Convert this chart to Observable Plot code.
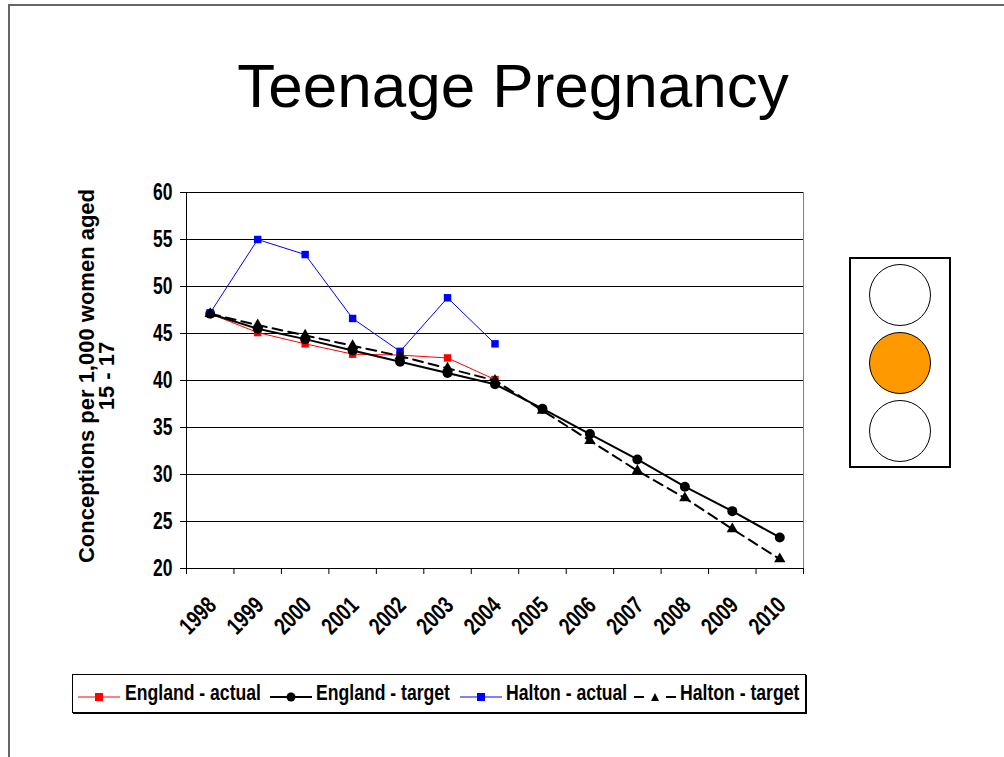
<!DOCTYPE html>
<html>
<head>
<meta charset="utf-8">
<script src="https://cdn.jsdelivr.net/npm/d3@7"></script>
<script src="https://cdn.jsdelivr.net/npm/@observablehq/plot@0.6"></script>
<style>
  html, body { margin: 0; padding: 0; background: #fff; }
  #page { position: relative; width: 1004px; height: 757px; overflow: hidden; font-family: "Liberation Sans", Arial, sans-serif; }
  #frame { position: absolute; left: 8px; top: 4px; width: 1000px; height: 760px; border-top: 2px solid #666; border-left: 2px solid #666; }
  #title { position: absolute; left: 11px; width: 1004px; top: 50px; text-align: center; font-size: 62px; color: #000; white-space: nowrap; }
  #chart { position: absolute; left: 0; top: 150px; }
  #ylabel { position: absolute; left: 97px; top: 376px; transform: translate(-50%, -50%) rotate(-90deg); white-space: nowrap; text-align: center; font-weight: bold; font-size: 22px; line-height: 20px; }
  #legend { position: absolute; left: 72px; top: 674px; width: 732px; height: 37px; border: 1px solid #000; box-shadow: 1px 1px 0 #000; font-family: "Liberation Sans", Arial, sans-serif; font-weight: bold; font-size: 22px; }
  .sw { position: absolute; top: 10px; }
  .lt { position: absolute; top: 5px; white-space: nowrap; transform: scaleX(0.8); transform-origin: left center; line-height: 26px; }
  #light { position: absolute; left: 849px; top: 257px; width: 98px; height: 207px; border: 2px solid #000; }
  .lamp { position: absolute; left: 18px; width: 60px; height: 60px; border: 1px solid #000; border-radius: 50%; background: #fff; }
</style>
</head>
<body>
<div id="page">
  <div id="frame"></div>
  <div id="title">Teenage Pregnancy</div>
  <div id="chart"></div>
  <div id="ylabel">Conceptions per 1,000 women aged<br>15 - 17</div>
  <div id="legend"></div>
  <div id="light">
    <div class="lamp" style="top:5px"></div>
    <div class="lamp" style="top:73px;background:#FF9900"></div>
    <div class="lamp" style="top:141px"></div>
  </div>
</div>
<script>
// ---- data ----
const years = [1998, 1999, 2000, 2001, 2002, 2003, 2004, 2005, 2006, 2007, 2008, 2009, 2010];
const englandActual = [47.1, 45.1, 43.9, 42.8, 42.7, 42.4, 40.1];
const englandTarget = [47.1, 45.5, 44.4, 43.2, 42.0, 40.8, 39.6, 37.0, 34.3, 31.6, 28.7, 26.1, 23.3];
const haltonActual = [47.2, 55.0, 53.4, 46.6, 43.1, 48.8, 43.9];
const haltonTarget = [47.1, 45.9, 44.8, 43.7, 42.6, 41.3, 40.0, 36.8, 33.6, 30.4, 27.5, 24.2, 21.0];
const seriesNames = ["England - actual", "England - target", "Halton - actual", "Halton - target"];
const yTicks = [20, 25, 30, 35, 40, 45, 50, 55, 60];

const toRows = (vals) => vals.map((v, i) => ({year: years[i], value: v}));
const ea = toRows(englandActual), et = toRows(englandTarget), ha = toRows(haltonActual), ht = toRows(haltonTarget);
const bounds = d3.range(years.length + 1).map(i => years[0] - 0.5 + i);

const styles = [
  {stroke: "#FF0000", strokeWidth: 1, dash: null, symbol: "square", r: 4.2},
  {stroke: "#000000", strokeWidth: 2, dash: null, symbol: "circle", r: 5},
  {stroke: "#0000FF", strokeWidth: 1, dash: null, symbol: "square", r: 4.2},
  {stroke: "#000000", strokeWidth: 2, dash: "10,6", symbol: "triangle", r: 4.2}
];
const datasets = [ea, et, ha, ht];

const marks = [
  Plot.ruleY(yTicks.filter(t => t > 20), {stroke: "#000", strokeWidth: 1, shapeRendering: "crispEdges"}),
  Plot.ruleX([bounds[bounds.length - 1]], {stroke: "#808080", strokeWidth: 1, shapeRendering: "crispEdges"}),
  Plot.ruleY([20], {stroke: "#000", strokeWidth: 1, shapeRendering: "crispEdges"}),
  Plot.ruleX([bounds[0]], {stroke: "#000", strokeWidth: 1, shapeRendering: "crispEdges"}),
  Plot.axisY({ticks: yTicks, tickSize: 6, tickPadding: 8, fontSize: 23, fontWeight: "bold", tickFormat: d => String(d), label: null}),
  Plot.axisX({ticks: bounds, tickSize: 6, tickFormat: () => "", label: null}),
  Plot.text(years, {x: d => d, y: () => 20, text: d => String(d), rotate: -45, textAnchor: "end", lineAnchor: "middle", dy: 33, dx: 2, fontSize: 24, fontWeight: "bold"})
];
datasets.forEach((data, i) => {
  const s = styles[i];
  marks.push(Plot.line(data, {x: "year", y: "value", stroke: s.stroke, strokeWidth: s.strokeWidth, strokeDasharray: s.dash}));
  marks.push(Plot.dot(data, {x: "year", y: "value", symbol: () => s.symbol, r: s.r, fill: s.stroke, stroke: "none"}));
});

const chart = Plot.plot({
  width: 1004,
  height: 520,
  marginLeft: 186,
  marginRight: 201,
  marginTop: 42,
  marginBottom: 102,
  x: {type: "linear", domain: [bounds[0], bounds[bounds.length - 1]], axis: null},
  y: {domain: [20, 60], axis: null},
  symbol: {type: "identity"},
  style: {background: "transparent", color: "#000", overflow: "visible", fontFamily: "'Liberation Sans', Arial, sans-serif"},
  marks
});
document.getElementById("chart").appendChild(chart);
// narrow the bold tick labels (the original uses a condensed face)
for (const t of chart.querySelectorAll("text")) {
  const L = t.getComputedTextLength();
  if (L > 0) {
    t.setAttribute("textLength", (L * 0.76).toFixed(2));
    t.setAttribute("lengthAdjust", "spacingAndGlyphs");
  }
}

// ---- legend ----
const legend = document.getElementById("legend");
const swX = [5, 197, 387, 561], txX = [52, 243, 433, 607];
seriesNames.forEach((name, i) => {
  const s = styles[i];
  const w = 42, h = 16;
  let marker;
  if (s.symbol === "square") marker = `<rect x="${w/2-4}" y="${h/2-4}" width="8" height="8" fill="${s.stroke}"/>`;
  else if (s.symbol === "circle") marker = `<circle cx="${w/2}" cy="${h/2}" r="4.5" fill="${s.stroke}"/>`;
  else marker = `<path d="M${w/2},${h/2-4} L${w/2+4},${h/2+4} L${w/2-4},${h/2+4} Z" fill="${s.stroke}"/>`;
  const line = s.dash
    ? `<line x1="0" x2="10" y1="${h/2}" y2="${h/2}" stroke="${s.stroke}" stroke-width="2"/><line x1="${w-10}" x2="${w}" y1="${h/2}" y2="${h/2}" stroke="${s.stroke}" stroke-width="2"/>`
    : `<line x1="0" x2="${w}" y1="${h/2}" y2="${h/2}" stroke="${s.stroke}" stroke-width="${s.strokeWidth}"/>`;
  const sw = document.createElement("div");
  sw.className = "sw"; sw.style.left = swX[i] + "px";
  sw.innerHTML = `<svg width="${w}" height="${h}">${line}${marker}</svg>`;
  const tx = document.createElement("div");
  tx.className = "lt"; tx.style.left = txX[i] + "px";
  tx.textContent = name;
  legend.appendChild(sw); legend.appendChild(tx);
});
</script>
</body>
</html>
